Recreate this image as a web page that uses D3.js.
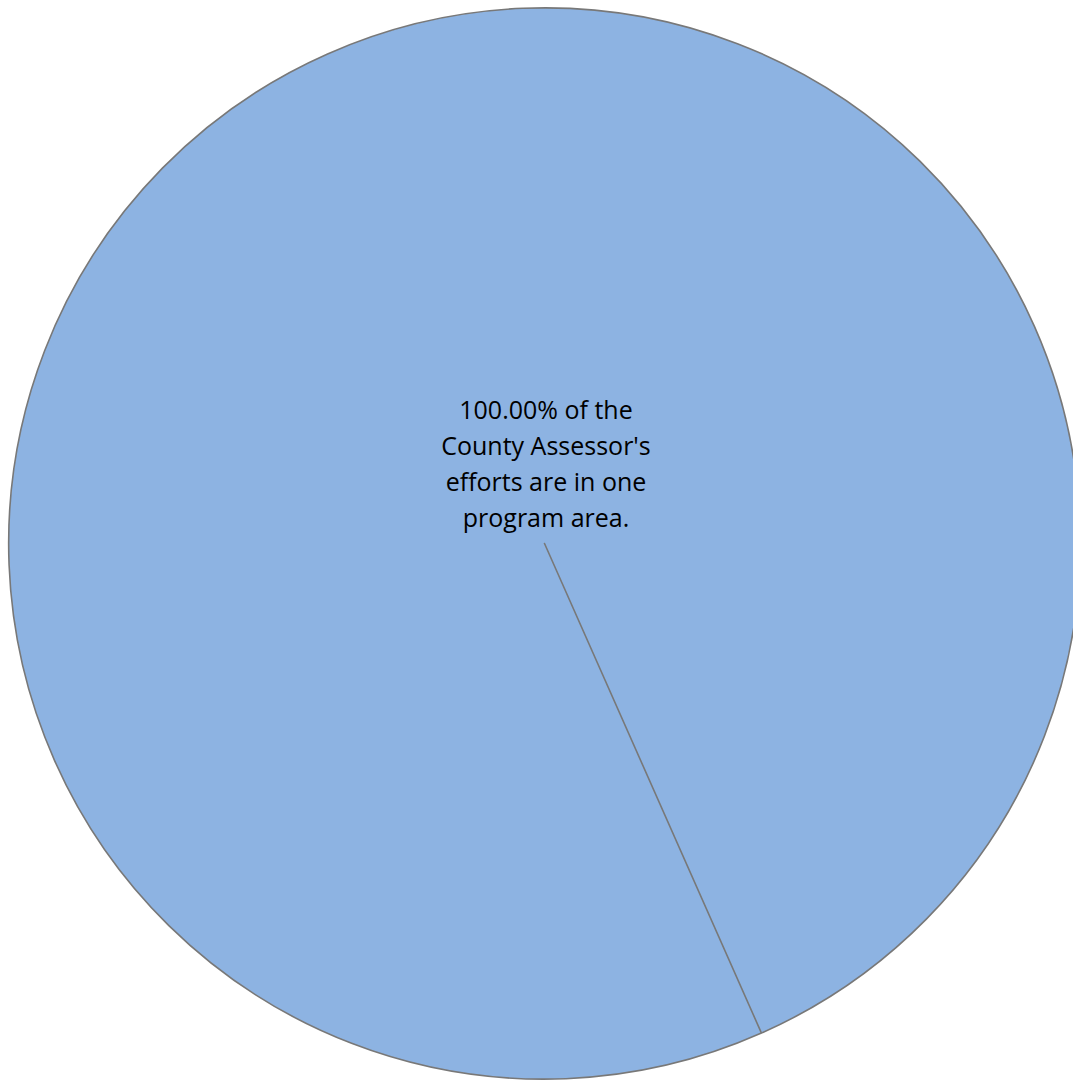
<!DOCTYPE html>
<html><head><meta charset="utf-8">
<script src="https://cdn.jsdelivr.net/npm/d3@7"></script>
<style>html,body{margin:0;padding:0;background:#fff;overflow:hidden}</style>
</head><body>
<svg id="chart" width="1073" height="1081"></svg>
<script>
const categories = ["County Assessor"];
const values = [100];
const labelLines = ["100.00% of the", "County Assessor's", "efforts are in one", "program area."];
const startAngleDeg = 156.1;

const svg = d3.select("#chart");
const cx = 544.5, cy = 543.5, r = 535.5;
const g = svg.append("g").attr("transform", `translate(${cx},${cy})`);

const a0 = startAngleDeg * Math.PI / 180;
const pie = d3.pie().sort(null).startAngle(a0).endAngle(a0 + 2 * Math.PI);
const arcs = pie(values);
const arc = d3.arc().innerRadius(0).outerRadius(r);

g.selectAll("path.slice").data(arcs).join("path")
  .attr("class", "slice")
  .attr("d", d => arc({...d, endAngle: d.endAngle - 1e-6}))
  .attr("fill", "#8db3e2")
  .attr("stroke", "#787878")
  .attr("stroke-width", 1.6)
  .attr("stroke-linejoin", "round");

const text = g.append("text")
  .attr("text-anchor", "middle")
  .attr("font-family", "'Open Sans', 'Noto Sans', sans-serif")
  .attr("font-size", 25)
  .attr("fill", "#000");
labelLines.forEach((t, i) => {
  text.append("tspan").attr("x", 1.5).attr("y", -124.5 + i * 36).text(t);
});
</script>
</body></html>
